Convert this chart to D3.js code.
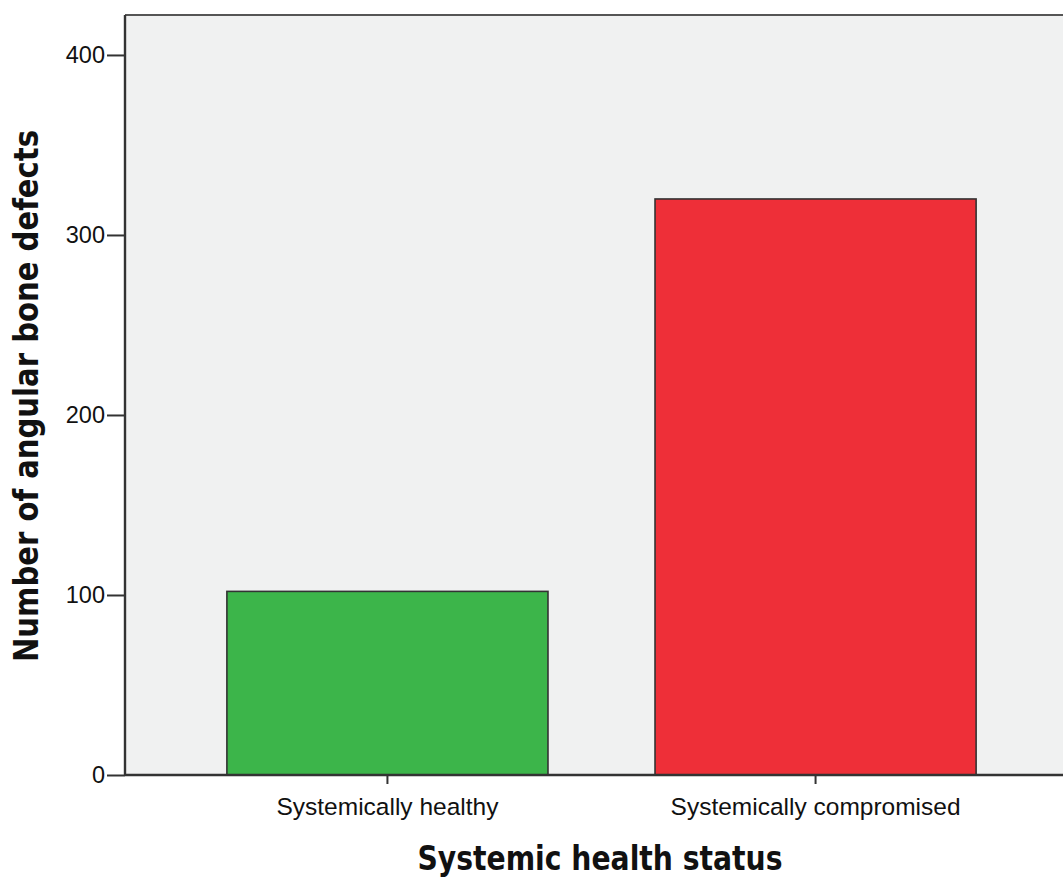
<!DOCTYPE html>
<html><head><meta charset="utf-8">
<script src="https://cdn.jsdelivr.net/npm/d3@7"></script>
<style>body{margin:0;background:#fff}svg{display:block}</style>
</head><body>
<svg id="c" width="1063" height="879"></svg>
<script>
const categories = ["Systemically healthy", "Systemically compromised"];
const counts = [102, 320];
const barColors = ["#3cb54a", "#ee2f38"];
const yTicks = [0, 100, 200, 300, 400];
const xTitle = "Systemic health status";
const yTitle = "Number of angular bone defects";

(function(){
const svg = d3.select("#c");
const pL = 125, pT = 15, pB = 775, pR = 1078;
const tickFont = "Liberation Sans, Arial, sans-serif";
const titleFont = "DejaVu Sans Condensed, DejaVu Sans, sans-serif";
const x = d3.scaleBand().domain(categories).range([pL, pR]).paddingInner(0.25).paddingOuter(0.238);
const y = d3.scaleLinear().domain([0, 422.2]).range([pB, pT]);

svg.append("rect").attr("x", pL).attr("y", pT).attr("width", pR - pL).attr("height", pB - pT)
  .attr("fill", "#f0f1f1");

svg.selectAll("rect.bar").data(categories).enter().append("rect").attr("class","bar")
  .attr("x", d => x(d)).attr("y", (d,i) => y(counts[i]))
  .attr("width", x.bandwidth()).attr("height", (d,i) => pB - y(counts[i]))
  .attr("fill", (d,i) => barColors[i]).attr("stroke", "#333").attr("stroke-width", 1.6);

svg.append("line").attr("x1", pL).attr("x2", pR).attr("y1", pT).attr("y2", pT).attr("stroke","#555").attr("stroke-width",2.2);

const yAxis = svg.append("g").attr("transform", `translate(${pL},0)`)
  .call(d3.axisLeft(y).tickValues(yTicks).tickSize(18).tickPadding(2).tickFormat(d3.format("d")));
yAxis.select(".domain").attr("stroke","#333").attr("stroke-width",2.4).attr("d", `M0,${pT}V${pB}`);
yAxis.selectAll(".tick line").attr("stroke","#333").attr("stroke-width",2);
yAxis.selectAll("text").attr("font-family",tickFont).attr("font-size",23.5).attr("fill","#111");

const xAxis = svg.append("g").attr("transform", `translate(0,${pB})`)
  .call(d3.axisBottom(x).tickSize(9).tickPadding(19));
xAxis.select(".domain").attr("stroke","#333").attr("stroke-width",2.4).attr("d", `M${pL},0H${pR}`);
xAxis.selectAll(".tick line").attr("stroke","#333").attr("stroke-width",2);
xAxis.selectAll("text").attr("font-family",tickFont).attr("font-size",24.5).attr("fill","#111").attr("dy","0.5em");

svg.append("text").attr("x", 600).attr("y", 870).attr("text-anchor","middle")
  .attr("font-family",titleFont).attr("font-weight","bold").attr("font-size",33)
  .attr("textLength", 365).attr("lengthAdjust","spacingAndGlyphs").attr("fill","#111").text(xTitle);

svg.append("text").attr("transform","translate(38,396) rotate(-90)").attr("text-anchor","middle")
  .attr("font-family",titleFont).attr("font-weight","bold").attr("font-size",33)
  .attr("textLength", 532).attr("lengthAdjust","spacingAndGlyphs").attr("fill","#111").text(yTitle);
})();
</script>
</body></html>
